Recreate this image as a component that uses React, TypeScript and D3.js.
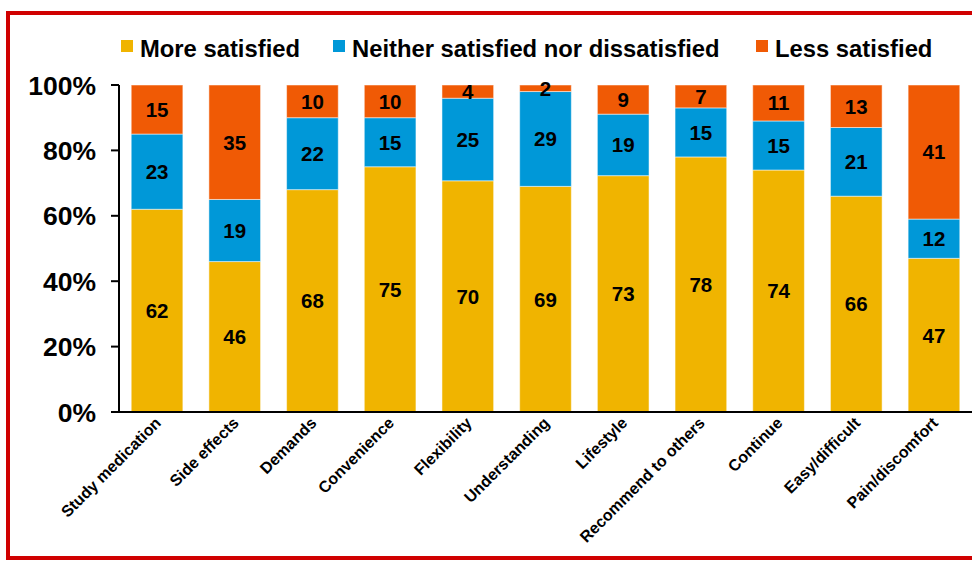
import React from "react";
import * as d3 from "d3";

const categories = [
  "Study medication",
  "Side effects",
  "Demands",
  "Convenience",
  "Flexibility",
  "Understanding",
  "Lifestyle",
  "Recommend to others",
  "Continue",
  "Easy/difficult",
  "Pain/discomfort",
];
const moreSatisfied = [62, 46, 68, 75, 70, 69, 73, 78, 74, 66, 47];
const neither = [23, 19, 22, 15, 25, 29, 19, 15, 15, 21, 12];
const lessSatisfied = [15, 35, 10, 10, 4, 2, 9, 7, 11, 13, 41];
const seriesNames = ["More satisfied", "Neither satisfied nor dissatisfied", "Less satisfied"];
const seriesColors = ["#F0B400", "#0098D8", "#F05A05"];
const yTicks = [0, 0.2, 0.4, 0.6, 0.8, 1];

const W = 972;
const H = 561;
const FONT = "Liberation Sans, Arial, sans-serif";

export default function App() {
  const keys = ["more", "neither", "less"];
  const rows = categories.map((c, i) => ({
    cat: c,
    more: moreSatisfied[i],
    neither: neither[i],
    less: lessSatisfied[i],
  }));
  const stack = d3.stack<any>().keys(keys).offset(d3.stackOffsetExpand);
  const series = stack(rows);

  const x = d3
    .scaleBand<string>()
    .domain(categories)
    .range([118, 973])
    .paddingInner(0.335)
    .paddingOuter(0.17);
  const y = d3.scaleLinear().domain([0, 1]).range([412, 85]);

  const legendX = [121, 333, 756];

  return (
    <svg
      width={W}
      height={H}
      style={{ position: "absolute", left: 0, top: 0, fontFamily: FONT }}
    >
      <rect x={0} y={0} width={W} height={H} fill="#fff" />
      <rect x={8} y={13} width={W + 20} height={545} fill="none" stroke="#D00000" strokeWidth={4} />

      {/* legend */}
      {seriesNames.map((n, i) => (
        <g key={n}>
          <rect x={legendX[i]} y={40} width={12} height={12} fill={seriesColors[i]} />
          <text x={legendX[i] + 19} y={57} fontSize={23.8} fontWeight="bold" fill="#000">
            {n}
          </text>
        </g>
      ))}

      {/* bars */}
      {series.map((s, si) => (
        <g key={s.key}>
          {s.map((d, i) => {
            const bx = x(categories[i])!;
            const y0 = y(d[0]);
            const y1 = y(d[1]);
            return (
              <rect
                key={i}
                x={bx}
                y={y1}
                width={x.bandwidth()}
                height={y0 - y1}
                fill={seriesColors[si]}
                stroke="rgba(255,255,255,0.5)"
                strokeWidth={1}
              />
            );
          })}
        </g>
      ))}

      {/* data labels */}
      {series.map((s, si) => (
        <g key={"l" + s.key}>
          {s.map((d, i) => {
            const cx = x(categories[i])! + x.bandwidth() / 2;
            const cy = (y(d[0]) + y(d[1])) / 2;
            const v = (rows[i] as any)[s.key];
            return (
              <text
                key={i}
                x={cx}
                y={cy}
                dy="0.36em"
                textAnchor="middle"
                fontSize={20.5}
                fontWeight="bold"
                fill="#000"
              >
                {v}
              </text>
            );
          })}
        </g>
      ))}

      {/* y axis */}
      <line x1={119} x2={119} y1={85} y2={413} stroke="#000" strokeWidth={2} />
      {yTicks.map((t) => (
        <g key={t}>
          <line x1={111} x2={119} y1={y(t)} y2={y(t)} stroke="#000" strokeWidth={2} />
          <text
            x={96}
            y={y(t)}
            dy="0.36em"
            textAnchor="end"
            fontSize={26.5}
            fontWeight="bold"
            fill="#000"
          >
            {d3.format(".0%")(t)}
          </text>
        </g>
      ))}

      {/* x axis */}
      <line x1={111} x2={W} y1={412} y2={412} stroke="#000" strokeWidth={2} />
      {categories.map((c) => {
        const cx = x(c)! + x.bandwidth() / 2;
        return (
          <text
            key={c}
            transform={`translate(${cx + 5},${424}) rotate(-45)`}
            textAnchor="end"
            fontSize={16}
            fontWeight="bold"
            fill="#000"
          >
            {c}
          </text>
        );
      })}
    </svg>
  );
}
